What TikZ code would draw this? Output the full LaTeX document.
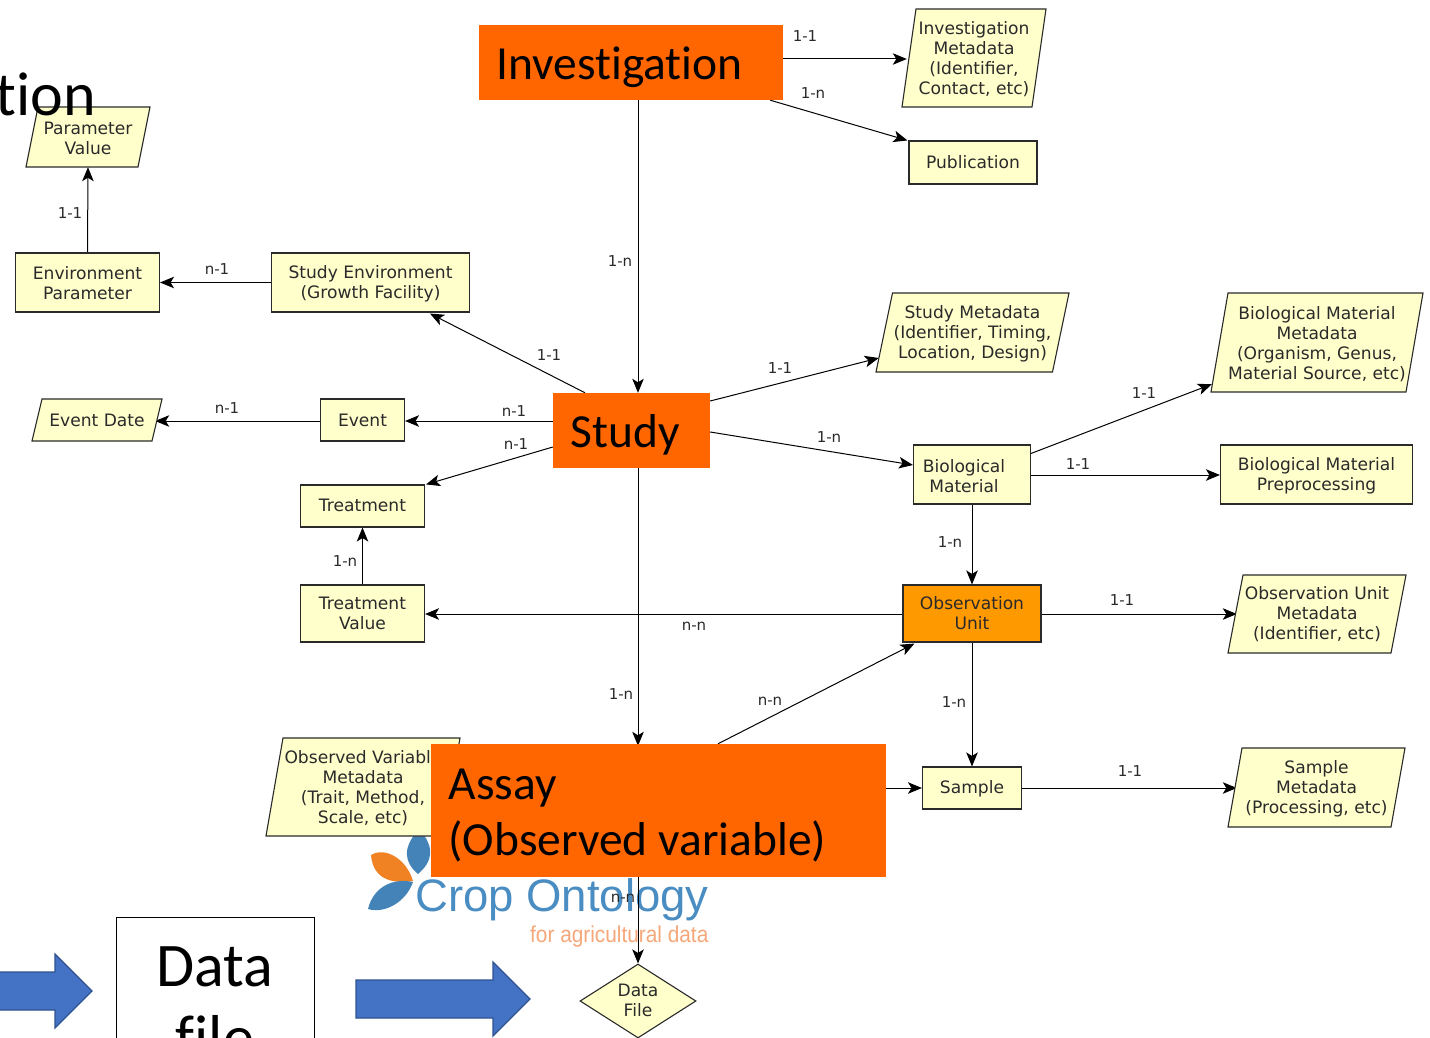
\documentclass[tikz,border=0pt]{standalone}
\usepackage{fontspec}
\setmainfont{DejaVu Sans}
\newfontfamily\bigfont[Ligatures=CommonOff]{Carlito}
\newfontfamily\logofont{Liberation Sans}
\usetikzlibrary{shapes.geometric,arrows.meta,calc}
\pgfdeclarelayer{logolayer}
\pgfdeclarelayer{links}
\pgfsetlayers{logolayer,links,main}
\definecolor{pale}{HTML}{FFFFCC}
\definecolor{hot}{HTML}{FF6600}
\definecolor{amber}{HTML}{FF9900}
\definecolor{inkline}{HTML}{2A2A2A}
\definecolor{bigblue}{HTML}{4472C4}
\definecolor{bigblueedge}{HTML}{2F528F}
\definecolor{logoblue}{HTML}{4A8DC2}
\definecolor{leafblue}{HTML}{4383B8}
\definecolor{leaforange}{HTML}{F08224}
\definecolor{logoorange}{HTML}{F5A77A}
\tikzset{
  small/.style={font=\fontsize{17.1}{20}\selectfont,text=inkline,align=center},
  box/.style={small,draw=inkline,line width=1.1pt,fill=pale,inner sep=0pt},
  paratext/.style={small,inner sep=0pt},
  paraedge/.style={draw=inkline,line width=1.1pt,fill=pale},
  big/.style={fill=hot,inner ysep=0pt,inner xsep=17.5pt,font=\fontsize{47.5}{56}\selectfont\bigfont,text=black,align=left},
  conn/.style={draw=black,line width=1pt,-{Stealth[length=14pt,width=11.5pt,inset=3.5pt]}},
  lab/.style={font=\fontsize{15}{18}\selectfont,text=inkline,inner sep=0pt},
  fat/.style={fill=bigblue,draw=bigblueedge,line width=1.2pt},
  huge/.style={inner sep=0pt,font=\fontsize{62}{72}\selectfont\bigfont},
}
% lower one line of text by an amount, keeping its box for centring
\newcommand{\dnby}[2]{\raisebox{-#1}[\height][\depth]{#2}}
% name, cx, cy, overall width, height, slant, text drop, text
\newcommand{\paranode}[8]{%
  \path[paraedge] ({#2-#4/2+#6},{#3-#5/2}) -- ({#2+#4/2},{#3-#5/2}) -- ({#2+#4/2-#6},{#3+#5/2}) -- ({#2-#4/2},{#3+#5/2}) -- cycle;
  \node[minimum width=#4pt,minimum height=#5pt,inner sep=0pt] (#1) at (#2,#3) {};
  \node[paratext] (#1-text) at (#2,{#3+#7}) {#8};}
\begin{document}
\begin{tikzpicture}[x=1pt,y=-1pt]
\useasboundingbox (0,0) rectangle (1430,1038);

% boxes
\node[box,minimum width=128pt,minimum height=43pt] (pub) at (973,162.5) {Publication};
\node[box,minimum width=144pt,minimum height=59pt] (envp) at (87.5,282.5) {\dnby{1pt}{Environment}\\\dnby{1pt}{Parameter}};
\node[box,minimum width=198pt,minimum height=59pt] (senv) at (370.5,282.5) {\dnby{1.5pt}{Study Environment}\\\dnby{1.5pt}{(Growth Facility)}};
\node[box,minimum width=84pt,minimum height=42pt] (event) at (362.5,420) {Event};
\node[box,minimum width=124pt,minimum height=42pt] (treat) at (362.5,506) {\dnby{-1pt}{Treatment}};
\node[box,minimum width=124pt,minimum height=57pt] (tval) at (362.5,613.5) {Treatment\\Value};
\node[box,minimum width=117pt,minimum height=59pt] (bio) at (972,474.5) {};
\node[paratext] (biotext) at (964,476) {Biological\\Material};
\node[box,minimum width=192pt,minimum height=59pt] (prep) at (1316.5,474.5) {\dnby{1.5pt}{Biological Material}\\\dnby{1.5pt}{Preprocessing}};
\node[box,fill=amber,minimum width=138pt,minimum height=57pt] (ou) at (972,613.5) {Observation\\Unit};
\node[box,minimum width=99pt,minimum height=42pt] (sample) at (972,788) {\dnby{1pt}{Sample}};

\paranode{imeta}{974}{58}{144}{98}{14}{1}{Investigation\\Metadata\\(Identifier,\\Contact, etc)}
\paranode{pval}{88}{137}{124}{60}{12}{1}{Parameter\\Value}
\paranode{smeta}{972.5}{332.5}{193}{79}{16.5}{1}{Study Metadata\\(Identifier, Timing,\\Location, Design)}
\paranode{bmeta}{1317}{342.5}{212}{99}{17}{1.5}{Biological Material\\Metadata\\(Organism, Genus,\\Material Source, etc)}
\paranode{edate}{97}{420}{130}{42}{10}{0}{Event Date}
\paranode{oumeta}{1317}{614}{178}{78}{15}{0}{Observation Unit\\Metadata\\(Identifier, etc)}
\paranode{smpmeta}{1316.5}{787.5}{177}{79}{14}{1}{Sample\\Metadata\\(Processing, etc)}
\paranode{ovmeta}{363}{787}{194}{98}{17}{1}{Observed Variable\\Metadata\\(Trait, Method,\\Scale, etc)}
\node[box,shape=diamond,minimum width=116pt,minimum height=74pt,aspect=1.57] (dfile) at (638,1001) {\dnby{-1pt}{Data}\\\dnby{-1pt}{File}};

% big orange boxes
\node[big,text width=269pt,minimum height=75pt] (inv) at (631,62.5) {\dnby{4.5pt}{Investigation}};
\node[big,text width=122pt,minimum height=75pt] (study) at (631.5,430.5) {\dnby{4.5pt}{Study}};
\node[big,text width=420pt,minimum height=133pt] (assay) at (658.5,810.5) {\dnby{5pt}{Assay}\\\dnby{5pt}{(Observed\hspace{-5pt} variable)}};

% connectors
\begin{pgfonlayer}{links}
\draw[conn] ($(inv.east)+(0,-3.5)$) -- ($(imeta.west)+(5,1)$);
\draw[conn] ($(inv.south east)+(-13,0)$) -- ($(pub.north west)+(-1,0)$);
\draw[conn] ($(inv.south)+(7,0)$) -- ($(study.north)+(6.5,0)$);
\draw[conn] ($(study.north)+(-46.5,0)$) -- ($(senv.south)+(59.5,1)$);
\draw[conn] (senv.west) -- (envp.east);
\draw[conn] (envp.north) -- (pval.south);
\draw[conn] ($(study.east)+(0,-29.5)$) -- ($(smeta.west)+(3,25.5)$);
\draw[conn] ($(study.west)+(0,-9.5)$) -- ($(event.east)+(0,1)$);
\draw[conn] ($(event.west)+(0,1)$) -- ($(edate.east)+(-7,1)$);
\draw[conn] ($(study.west)+(0,16.5)$) -- ($(treat.north east)+(1,0)$);
\draw[conn] (tval.north) -- (treat.south);
\draw[conn] ($(study.east)+(0,1.5)$) -- ($(bio.west)+(0,-9.5)$);
\draw[conn] ($(bio.north east)+(0,9)$) -- ($(bmeta.south west)+(1,-8)$);
\draw[conn] ($(bio.east)+(0,.5)$) -- ($(prep.west)+(0,.5)$);
\draw[conn] (bio.south) -- (ou.north);
\draw[conn] ($(ou.west)+(0,.5)$) -- ($(tval.east)+(0,.5)$);
\draw[conn] ($(ou.east)+(0,.5)$) -- ($(oumeta.west)+(9,0)$);
\draw[conn] ($(study.south)+(6.5,0)$) -- ($(assay.north)+(-20.5,2)$);
\draw[conn] ($(assay.north)+(59.5,0)$) -- ($(ou.south west)+(12,1)$);
\draw[conn] (ou.south) -- (sample.north);
\draw[conn] ($(assay.east)+(0,-22.5)$) -- (sample.west);
\draw[conn] (sample.east) -- ($(smpmeta.west)+(9,.5)$);
\draw[conn] ($(assay.south)+(-20.5,0)$) -- (dfile.north);
\end{pgfonlayer}

% logo, under the connectors
\begin{pgfonlayer}{logolayer}
\fill[white] (0,0) rectangle (1430,1038);
\fill[leafblue] (419,829) .. controls (402,848) and (404,862) .. (418,874) .. controls (432,862) and (436,848) .. (419,829);
\fill[leaforange] (371,855) .. controls (386,846) and (407,860) .. (413,881) .. controls (393,884) and (373,880) .. (371,855);
\fill[leafblue] (368,909) .. controls (374,885) and (395,878) .. (413,882) .. controls (406,902) and (385,914) .. (368,909);
\node[anchor=base west,inner sep=0pt,font=\fontsize{45.5}{50}\selectfont\logofont,text=logoblue] (logo) at (415,911) {Crop Ontology};
\node[anchor=base west,inner sep=0pt,font=\fontsize{23}{26}\selectfont\logofont,text=logoorange] (logosub) at (530,942) {\scalebox{.905}[1]{for agricultural data}};
\end{pgfonlayer}

% connector labels
\node[lab] (l1) at (805,36) {1-1};
\node[lab] (l2) at (813,93) {1-n};
\node[lab] (l3) at (620,261) {1-n};
\node[lab] (l4) at (549,355) {1-1};
\node[lab] (l5) at (217,269) {n-1};
\node[lab] (l6) at (70,213) {1-1};
\node[lab] (l7) at (780,368) {1-1};
\node[lab] (l8) at (514,411) {n-1};
\node[lab] (l9) at (227,408) {n-1};
\node[lab] (l10) at (516,444) {n-1};
\node[lab] (l11) at (345,561) {1-n};
\node[lab] (l12) at (829,437) {1-n};
\node[lab] (l13) at (1144,393) {1-1};
\node[lab] (l14) at (1078,464) {1-1};
\node[lab] (l15) at (950,542) {1-n};
\node[lab] (l16) at (694,626) {n-n};
\node[lab] (l17) at (1122,600) {1-1};
\node[lab] (l18) at (621,694) {1-n};
\node[lab] (l19) at (770,701) {n-n};
\node[lab] (l20) at (954,702) {1-n};
\node[lab] (l21) at (1130,771) {1-1};
\node[lab] (l22) at (623,898) {n-n};

% slide overlay: word fragment, white box, block arrows
\node[huge,anchor=base east] (frag) at (96,116) {tion};
\node[draw=black,line width=1pt,fill=white,minimum width=198pt,minimum height=200pt,inner sep=0pt] (dbox) at (215,1017) {};
\node[huge,anchor=base] (dtext) at (215,986) {Data};
\node[huge,anchor=base] (ftext) at (215,1058) {file};
\draw[fat] (-5,972) -- (55,972) -- (55,954) -- (92,991) -- (55,1028) -- (55,1010) -- (-5,1010) -- cycle;
\draw[fat] (356,980) -- (493,980) -- (493,962) -- (530,999) -- (493,1036) -- (493,1018) -- (356,1018) -- cycle;
\end{tikzpicture}
\end{document}
